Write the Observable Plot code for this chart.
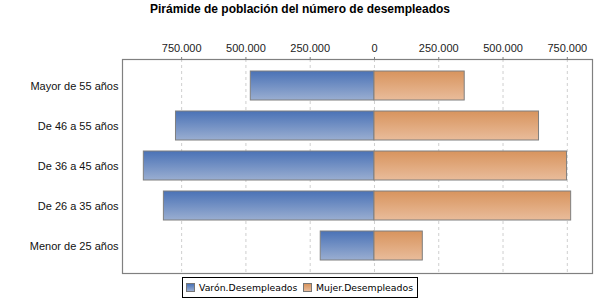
<!DOCTYPE html>
<html>
<head>
<meta charset="utf-8">
<script src="https://cdn.jsdelivr.net/npm/d3@7"></script>
<script src="https://cdn.jsdelivr.net/npm/@observablehq/plot@0.6"></script>
<style>
  body { margin: 0; background: #fff; width: 600px; height: 300px; position: relative; overflow: hidden; }
  #title { position: absolute; left: 0; top: 2px; width: 600px; text-align: center; font: bold 12px "Liberation Sans", Arial, sans-serif; color: #000; }
  #chart { position: absolute; left: 0; top: 30px; }
  #legend { position: absolute; left: 182px; top: 277px; width: 236px; height: 21px; border: 1px solid #000; box-sizing: border-box;
            font: 9.3px "DejaVu Sans", sans-serif; color: #000; }
  .sw { position: absolute; top: 5px; width: 9px; height: 9px; border: 1px solid #777; box-sizing: border-box; }
  .lt { position: absolute; top: 4px; line-height: 11px; white-space: nowrap; }
</style>
</head>
<body>
<div id="title">Pirámide de población del número de desempleados</div>
<div id="chart"></div>
<div id="legend"></div>
<script>
const categories = ["Mayor de 55 años", "De 46 a 55 años", "De 36 a 45 años", "De 26 a 35 años", "Menor de 25 años"];
const varon = [481000, 772000, 897000, 819000, 209000];
const mujer = [351000, 640000, 749000, 765000, 188000];
const tickValues = [-750000, -500000, -250000, 0, 250000, 500000, 750000];
const seriesNames = ["Varón.Desempleados", "Mujer.Desempleados"];
const seriesColors = [["#4a72b6", "#9aaed1"], ["#d8945d", "#e9bc9b"]];

const rows = categories.map((c, i) => ({ cat: c, varon: varon[i], mujer: mujer[i] }));
const fmt = d3.formatLocale({ decimal: ",", thousands: ".", grouping: [3], currency: ["", "€"] }).format(",");

const plot = Plot.plot({
  width: 600,
  height: 246,
  marginTop: 29,
  marginBottom: 3,
  marginLeft: 122,
  marginRight: 8,
  style: { fontFamily: "'Liberation Sans', Arial, sans-serif", fontSize: "11px", color: "#000", background: "#fff" },
  x: { domain: [-980000, 848000], label: null },
  y: { domain: categories, paddingInner: 0.264, paddingOuter: 0.254, label: null },
  marks: [
    Plot.gridX(tickValues, { stroke: "#cfcfcf", strokeOpacity: 1, strokeDasharray: "3,3" }),
    Plot.barX(rows, { y: "cat", x1: d => -d.varon, x2: 0, fill: "url(#gradM)", stroke: "#7f7f7f", strokeWidth: 1 }),
    Plot.barX(rows, { y: "cat", x1: 0, x2: "mujer", fill: "url(#gradF)", stroke: "#7f7f7f", strokeWidth: 1 }),
    Plot.frame({ stroke: "#808080", strokeWidth: 1.2 }),
    Plot.axisX(tickValues, { anchor: "top", tickFormat: d => fmt(Math.abs(d)), tickSize: 3, tickPadding: 5, stroke: "#808080", fill: "#222", label: null }),
    Plot.axisY({ anchor: "left", tickSize: 0, tickPadding: 4, fill: "#111", label: null })
  ]
});

const svg = d3.select(plot);
const defs = svg.insert("defs", ":first-child");
function grad(id, c1, c2) {
  const g = defs.append("linearGradient").attr("id", id).attr("x1", 0).attr("y1", 0).attr("x2", 0).attr("y2", 1);
  g.append("stop").attr("offset", "0%").attr("stop-color", c1);
  g.append("stop").attr("offset", "100%").attr("stop-color", c2);
}
grad("gradM", seriesColors[0][0], seriesColors[0][1]);
grad("gradF", seriesColors[1][0], seriesColors[1][1]);
document.getElementById("chart").appendChild(plot);

// legend
const leg = d3.select("#legend");
const swX = [3, 120];
seriesNames.forEach((name, i) => {
  leg.append("span").attr("class", "sw").style("left", swX[i] + "px")
     .style("background", `linear-gradient(${seriesColors[i][0]}, ${seriesColors[i][1]})`);
  leg.append("span").attr("class", "lt").style("left", (swX[i] + 13) + "px").text(name);
});
</script>
</body>
</html>
